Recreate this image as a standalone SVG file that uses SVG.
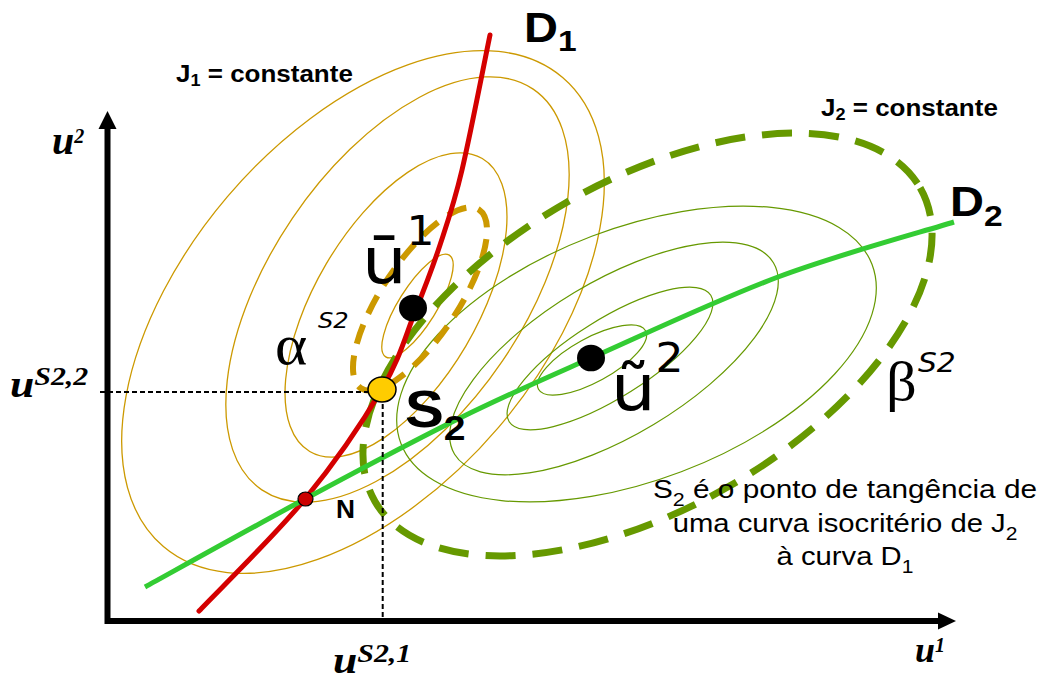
<svg xmlns="http://www.w3.org/2000/svg" width="1045" height="680" viewBox="0 0 1045 680">
<style>
.oth{fill:none;stroke:#cc9900;stroke-width:1.3}
.gth{fill:none;stroke:#669900;stroke-width:1.2}
.odash{fill:none;stroke:#cc9900;stroke-width:6;stroke-dasharray:20 12}
.gdash{fill:none;stroke:#669900;stroke-width:7;stroke-dasharray:30 17}
.guide{fill:none;stroke:#000;stroke-width:2;stroke-dasharray:5 3}
.sans{font-family:"Liberation Sans",Arial,sans-serif;fill:#000}
.bold{font-weight:bold}
.sbi{font-family:"Liberation Serif","Times New Roman",serif;font-weight:bold;font-style:italic;fill:#000}
.dv{font-family:"DejaVu Sans",Verdana,sans-serif;fill:#000}
.greek{font-family:"Liberation Serif","DejaVu Serif",serif;fill:#000}
.dot{fill:#000}
</style>
<rect width="1045" height="680" fill="#fff"/>

<g id="j1-contours">
<ellipse class="oth" cx="363" cy="312" rx="308" ry="178" transform="rotate(-49.6 363 312)"/>
<ellipse class="oth" cx="397.5" cy="289.5" rx="242" ry="127" transform="rotate(-55.9 397.5 289.5)"/>
<ellipse class="oth" cx="396" cy="305" rx="170" ry="81" transform="rotate(-59.5 396 305)"/>
<ellipse class="oth" cx="417.5" cy="306" rx="60" ry="19" transform="rotate(-58 417.5 306)"/>
</g>

<g id="j2-contours">
<ellipse class="gth" cx="592" cy="360" rx="61" ry="22" transform="rotate(-28.7 592 360)"/>
<ellipse class="gth" cx="610" cy="358.5" rx="119" ry="39" transform="rotate(-32.1 610 358.5)"/>
<ellipse class="gth" cx="614" cy="358.5" rx="186" ry="77" transform="rotate(-31 614 358.5)"/>
<ellipse class="gth" cx="636.5" cy="354" rx="252" ry="126" transform="rotate(-20.8 636.5 354)"/>
</g>

<g id="alpha-s2">
<ellipse class="odash" cx="420" cy="299" rx="107" ry="38" transform="rotate(-56.5 420 299)"/>
</g>

<g id="beta-s2">
<ellipse class="gdash" cx="647.5" cy="344.5" rx="314.5" ry="163.6" transform="rotate(-29.9 647.5 344.5)"/>
</g>

<g id="axes">
<path d="M107.5,126 V621 H940" fill="none" stroke="#000" stroke-width="6"/>
<polygon points="107.5,111 98.5,129 116.5,129" fill="#000"/>
<polygon points="956,621 938,612.5 938,629.5" fill="#000"/>
</g>

<g id="connectors">
<path id="D1-curve" d="M199,611 C216.7,592.3 274.5,536 305,499 C335.5,462 363.7,420.2 382,389 C400.3,357.8 405.3,336 415,312 C424.7,288 432.2,268.7 440,245 C447.8,221.3 453.7,205 462,170 C470.3,135 485.3,57.5 490,35" fill="none" stroke="#d40000" stroke-width="5" stroke-linecap="round"/>
<path id="D2-curve" d="M145,587 C171.7,572.3 252.5,527.2 305,499 C357.5,470.8 412.3,441.5 460,418 C507.7,394.5 538,381.5 591,358 C644,334.5 717.5,299.7 778,277 C838.5,254.3 924.7,231.2 954,222" fill="none" stroke="#33cc33" stroke-width="5" stroke-linecap="butt"/>
<path class="guide" d="M100,392 H380"/>
<path class="guide" d="M382.7,396 V619"/>
</g>

<g id="point-N">
<ellipse cx="305.5" cy="499" rx="7.5" ry="7" fill="#cc0000" stroke="#000" stroke-width="1.2"/>
<text class="sans bold" font-size="25" transform="translate(336,518) scale(1.05,1)">N</text>
</g>

<g id="point-S2">
<ellipse cx="382" cy="389.5" rx="14" ry="12.5" fill="#ffcc00" stroke="#000" stroke-width="1.5"/>
<text class="sans bold" font-size="52" transform="translate(405,427) scale(1.12,1)">S<tspan font-size="35" dy="13">2</tspan></text>
</g>

<g id="point-u1bar">
<ellipse class="dot" cx="413" cy="308" rx="14" ry="13.3"/>
<text class="dv" font-size="64" transform="translate(362,283) scale(1.1,1)">ū<tspan font-size="40" dy="-38">1</tspan></text>
</g>

<g id="point-u2tilde">
<ellipse class="dot" cx="591" cy="358" rx="14" ry="13.3"/>
<text class="dv" font-size="64" transform="translate(611,410) scale(1.1,1)">ũ<tspan font-size="40" dy="-38">2</tspan></text>
</g>

<g id="labels">
<text class="sans bold" font-size="23" transform="translate(176,82) scale(1.13,1)">J<tspan font-size="16" dy="4">1</tspan><tspan dy="-4"> = constante</tspan></text>
<text class="sans bold" font-size="23" transform="translate(821,116) scale(1.13,1)">J<tspan font-size="16" dy="4">2</tspan><tspan dy="-4"> = constante</tspan></text>
<text class="sans bold" font-size="42" transform="translate(524,42) scale(1.12,1)">D<tspan font-size="30" dy="9">1</tspan></text>
<text class="sans bold" font-size="42" transform="translate(950,216) scale(1.12,1)">D<tspan font-size="30" dy="10">2</tspan></text>
<text class="greek" font-size="56" transform="translate(275,364) scale(1.1,1)">α<tspan class="dv" font-size="22" font-style="italic" x="39" dy="-36">S2</tspan></text>
<text class="greek" font-size="55" transform="translate(886,400) scale(1.1,1)">β<tspan class="dv" font-size="27" font-style="italic" x="29" dy="-28">S2</tspan></text>
<text class="sbi" font-size="40" transform="translate(52,154)">u<tspan font-size="20" dy="-11">2</tspan></text>
<text class="sbi" font-size="36" transform="translate(915,662)">u<tspan font-size="20" dy="-10">1</tspan></text>
<text class="sbi" font-size="38" transform="translate(10,397) scale(1.15,1)">u<tspan font-size="26" dy="-12">S2,2</tspan></text>
<text class="sbi" font-size="38" transform="translate(333,673) scale(1.15,1)">u<tspan font-size="26" dy="-11">S2,1</tspan></text>
</g>

<g id="note">
<text class="sans" font-size="25" text-anchor="middle" transform="translate(845,498) scale(1.19,1)">S<tspan font-size="18" dy="8">2</tspan><tspan dy="-8"> é o ponto de tangência de</tspan></text>
<text class="sans" font-size="25" text-anchor="middle" transform="translate(845,532) scale(1.17,1)">uma curva isocritério de J<tspan font-size="18" dy="8">2</tspan></text>
<text class="sans" font-size="25" text-anchor="middle" transform="translate(845,565) scale(1.17,1)">à curva D<tspan font-size="18" dy="8">1</tspan></text>
</g>
</svg>
